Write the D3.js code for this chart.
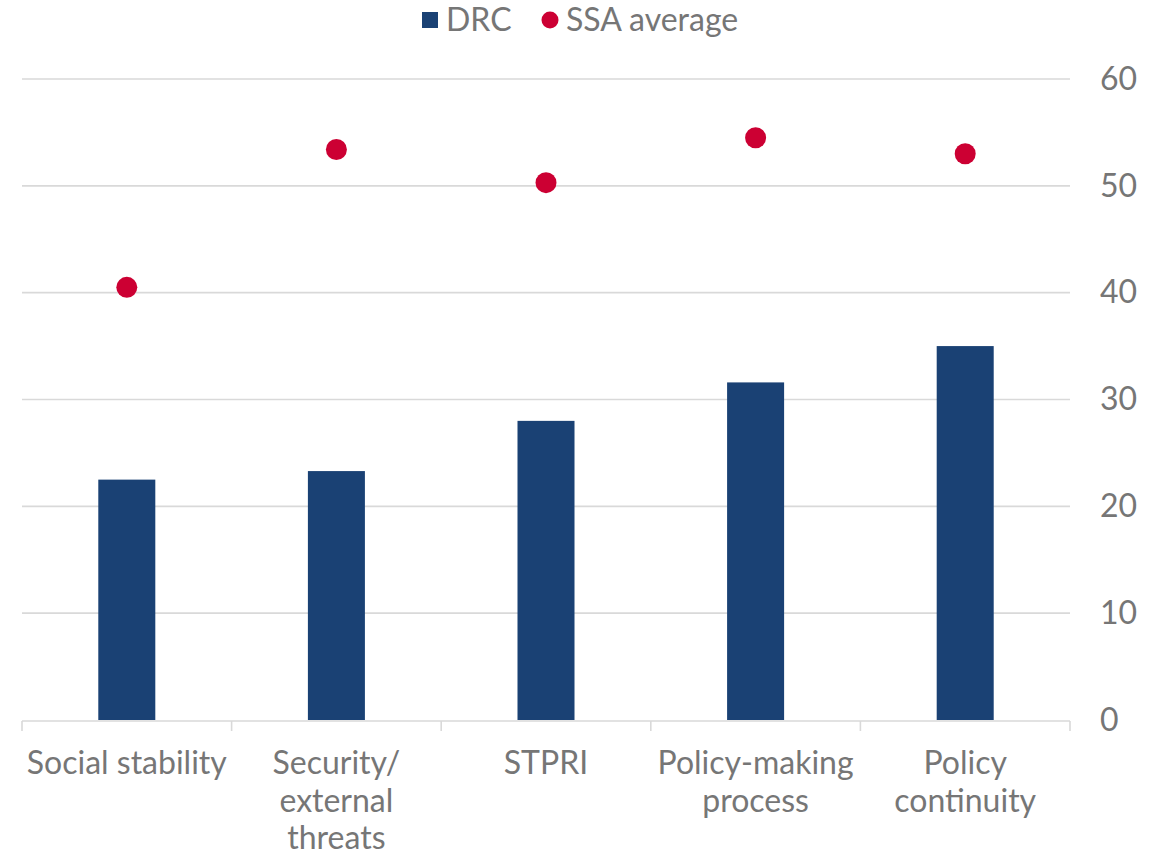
<!DOCTYPE html>
<html>
<head>
<meta charset="utf-8">
<script src="https://cdn.jsdelivr.net/npm/d3@7"></script>
<style>
  html, body { margin: 0; padding: 0; background: #fff; }
  svg { display: block; font-family: Lato, "Open Sans", sans-serif; }
</style>
</head>
<body>
<svg id="chart" width="1171" height="855"></svg>
<script>
// Political risk sub-indices: DRC scores vs Sub-Saharan Africa average
const categories = ["Social stability", "Security/\nexternal\nthreats", "STPRI", "Policy-making\nprocess", "Policy\ncontinuity"];
const drcValues = [22.5, 23.3, 28.0, 31.6, 35.0];
const ssaValues = [40.5, 53.4, 50.3, 54.5, 53.0];
const yTicks = [0, 10, 20, 30, 40, 50, 60];
const seriesNames = ["DRC", "SSA average"];

const barColor = "#1a4174";
const dotColor = "#cc0033";
const textColor = "#767676";
const gridColor = "#d9d9d9";
const fontSize = 32;

const svg = d3.select("#chart");
const plot = { left: 22, right: 1070, top: 79, bottom: 720 };

const x = d3.scaleBand()
  .domain(categories)
  .range([plot.left, plot.right])
  .paddingInner(0.728)
  .paddingOuter(0.364);

const y = d3.scaleLinear()
  .domain([0, 60])
  .range([plot.bottom, plot.top]);

// Horizontal gridlines
svg.append("g")
  .selectAll("line")
  .data(yTicks.filter(t => t > 0))
  .join("line")
  .attr("x1", plot.left)
  .attr("x2", plot.right)
  .attr("y1", d => y(d))
  .attr("y2", d => y(d))
  .attr("stroke", gridColor)
  .attr("stroke-width", 1.6);

// Bars (DRC)
svg.append("g")
  .selectAll("rect")
  .data(categories.map((c, i) => ({ c, v: drcValues[i] })))
  .join("rect")
  .attr("x", d => x(d.c))
  .attr("width", x.bandwidth())
  .attr("y", d => y(d.v))
  .attr("height", d => y(0) - y(d.v))
  .attr("fill", barColor);

// Category axis line and boundary ticks
const step = x.step();
const boundaries = d3.range(categories.length + 1).map(i => plot.left + i * step);
const xAxisG = svg.append("g");
xAxisG.append("line")
  .attr("x1", plot.left).attr("x2", plot.right)
  .attr("y1", y(0) + 1).attr("y2", y(0) + 1)
  .attr("stroke", gridColor).attr("stroke-width", 1.6);
xAxisG.selectAll("line.tick")
  .data(boundaries)
  .join("line")
  .attr("class", "tick")
  .attr("x1", d => d).attr("x2", d => d)
  .attr("y1", y(0) + 1).attr("y2", y(0) + 11)
  .attr("stroke", gridColor).attr("stroke-width", 1.6);

// Category labels (multi-line)
const labelG = svg.append("g")
  .attr("font-size", fontSize)
  .attr("fill", textColor)
  .attr("text-anchor", "middle");
labelG.selectAll("text")
  .data(categories)
  .join("text")
  .attr("x", d => x(d) + x.bandwidth() / 2)
  .attr("y", 774)
  .each(function (d) {
    const t = d3.select(this);
    d.split("\n").forEach((line, i) => {
      t.append("tspan")
        .attr("x", x(d) + x.bandwidth() / 2)
        .attr("dy", i === 0 ? 0 : 37.5)
        .text(line);
    });
  });

// Right value axis
const yAxis = d3.axisRight(y)
  .tickValues(yTicks)
  .tickSize(0)
  .tickPadding(30);
const yAxisG = svg.append("g")
  .attr("transform", `translate(${plot.right},0)`)
  .call(yAxis);
yAxisG.select(".domain").remove();
yAxisG.selectAll("text")
  .attr("font-size", fontSize)
  .attr("font-family", "Lato, 'Open Sans', sans-serif")
  .attr("fill", textColor);

// Dots (SSA average)
svg.append("g")
  .selectAll("circle")
  .data(categories.map((c, i) => ({ c, v: ssaValues[i] })))
  .join("circle")
  .attr("cx", d => x(d.c) + x.bandwidth() / 2)
  .attr("cy", d => y(d.v))
  .attr("r", 10.5)
  .attr("fill", dotColor);

// Legend
const legend = svg.append("g")
  .attr("font-size", fontSize)
  .attr("fill", textColor);
legend.append("rect")
  .attr("x", 422).attr("y", 12)
  .attr("width", 16).attr("height", 16)
  .attr("fill", barColor);
legend.append("text")
  .attr("x", 446).attr("y", 31)
  .text(seriesNames[0]);
legend.append("circle")
  .attr("cx", 550).attr("cy", 20)
  .attr("r", 8.5)
  .attr("fill", dotColor);
legend.append("text")
  .attr("x", 566).attr("y", 31)
  .text(seriesNames[1]);
</script>
</body>
</html>
